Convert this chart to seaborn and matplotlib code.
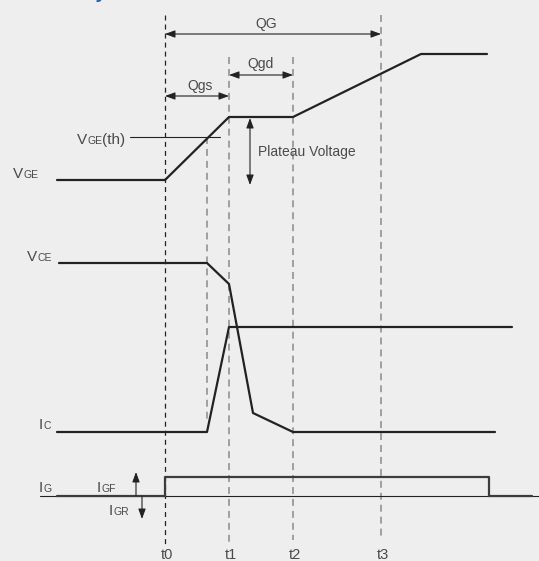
"""Gate charge waveform diagram (schematic), drawn in pixel units."""

import matplotlib
matplotlib.use("Agg")
import matplotlib.pyplot as plt
import seaborn as sns

# waveform corner points (pixel units of the original drawing)
vge_x = [57, 165, 229, 293, 421, 487]
vge_y = [180, 180, 117, 117, 54, 54]

vce_x = [59, 207, 229, 253, 293, 495]
vce_y = [263, 263, 284, 413, 432, 432]

ic_x = [57, 207, 229, 512]
ic_y = [432, 432, 327, 327]

ig_x = [57, 165, 165, 489, 489, 532]
ig_y = [496, 496, 477, 477, 496, 496]

ig_base_x = [40, 539]
ig_base_y = [496, 496]

vth_x = [130, 220]
vth_y = [137, 137]

# time markers
t_names = ["t0", "t1", "t2", "t3"]
t_pos = [165, 229, 293, 381]
t_top = [15, 57, 57, 15]
t_bottom = [545, 545, 540, 540]
t_vth = 207

# charge spans
charge_names = ["QG", "Qgs", "Qgd"]
charge_from = [165, 165, 229]
charge_to = [381, 229, 293]
charge_level = [34, 96, 75]

BG = "#eeeeee"
INK = "#222222"
TXT = "#4a4a4a"
GREY = "#8a8a8a"

sns.set_theme(style="white", rc={"axes.facecolor": BG, "figure.facecolor": BG})
plt.rcParams["font.family"] = ["Liberation Sans", "DejaVu Sans"]
plt.rcParams["lines.scale_dashes"] = False

fig = plt.figure(figsize=(5.39, 5.61), dpi=100)
ax = fig.add_axes([0, 0, 1, 1])
ax.set_xlim(0, 539)
ax.set_ylim(561, 0)
ax.axis("off")

# dashed time markers
for i, x in enumerate(t_pos):
    col = INK if i == 0 else GREY
    ls = (0, (3.6, 2.9)) if i == 0 else (0, (5.0, 3.6))
    lw = 0.9 if i == 0 else 1.1
    ax.vlines(x, t_top[i], t_bottom[i], colors=col, linestyles=ls, lw=lw)
    ax.text(x + 2, 559, t_names[i], fontsize=10.5, color=TXT, ha="center", va="baseline")
ax.vlines(t_vth, 137, 420, colors=GREY, linestyles=(0, (5.0, 3.6)), lw=1.1)

# thin reference lines
sns.lineplot(x=vth_x, y=vth_y, sort=False, estimator=None, color=INK, lw=0.8, ax=ax)
sns.lineplot(x=ig_base_x, y=ig_base_y, sort=False, estimator=None, color=INK, lw=0.8, ax=ax)

# waveforms
for xs, ys, col in [(vge_x, vge_y, INK), (vce_x, vce_y, INK), (ic_x, ic_y, INK), (ig_x, ig_y, "#3c3c3c")]:
    sns.lineplot(x=xs, y=ys, sort=False, estimator=None, color=col, lw=1.6, ax=ax)

arrow_kw = dict(arrowstyle="<|-|>,head_length=0.6,head_width=0.22", color=INK, lw=0.8,
                shrinkA=0, shrinkB=0, mutation_scale=10)
single_kw = dict(arrowstyle="-|>,head_length=0.6,head_width=0.22", color=INK, lw=0.8,
                 shrinkA=0, shrinkB=0, mutation_scale=10)

# charge spans
for name, a, b, lev in zip(charge_names, charge_from, charge_to, charge_level):
    ax.annotate("", xy=(b, lev), xytext=(a, lev), arrowprops=arrow_kw)
ax.text(266, 24, "QG", fontsize=10, color=TXT, ha="center", va="center")
ax.text(200, 86, "Qgs", fontsize=10, color=TXT, ha="center", va="center")
ax.text(260, 64, "Qgd", fontsize=10, color=TXT, ha="center", va="center")

# plateau voltage
ax.annotate("", xy=(250, 118), xytext=(250, 185), arrowprops=arrow_kw)
ax.text(258, 152, "Plateau Voltage", fontsize=10, color=TXT, ha="left", va="center")

# gate current arrows
ax.annotate("", xy=(136, 472), xytext=(136, 496), arrowprops=single_kw)
ax.annotate("", xy=(142, 519), xytext=(142, 496), arrowprops=single_kw)

renderer = fig.canvas.get_renderer()


def label(x, y, parts):
    """Draw mixed-size label pieces one after another on one baseline."""
    for txt, size in parts:
        t = ax.text(x, y, txt, fontsize=size, color=TXT, ha="left", va="baseline")
        x = t.get_window_extent(renderer).x1


label(13, 178, [("V", 11), ("GE", 7.5)])
label(77, 144, [("V", 11), ("GE", 7.5), ("(th)", 11)])
label(27, 261, [("V", 11), ("CE", 7.5)])
label(39, 429, [("I", 11), ("C", 7.5)])
label(39, 492, [("I", 11), ("G", 7.5)])
label(97, 492, [("I", 11), ("GF", 7.5)])
label(109, 515, [("I", 11), ("GR", 7.5)])

# heading cut off by the top edge, as in the source page crop
ax.text(20, -2, "Summary", fontsize=14, color="#1f5fbf", fontweight="bold",
        fontstyle="italic", ha="left", va="baseline")

fig.savefig("out.png", dpi=100, facecolor=BG)
